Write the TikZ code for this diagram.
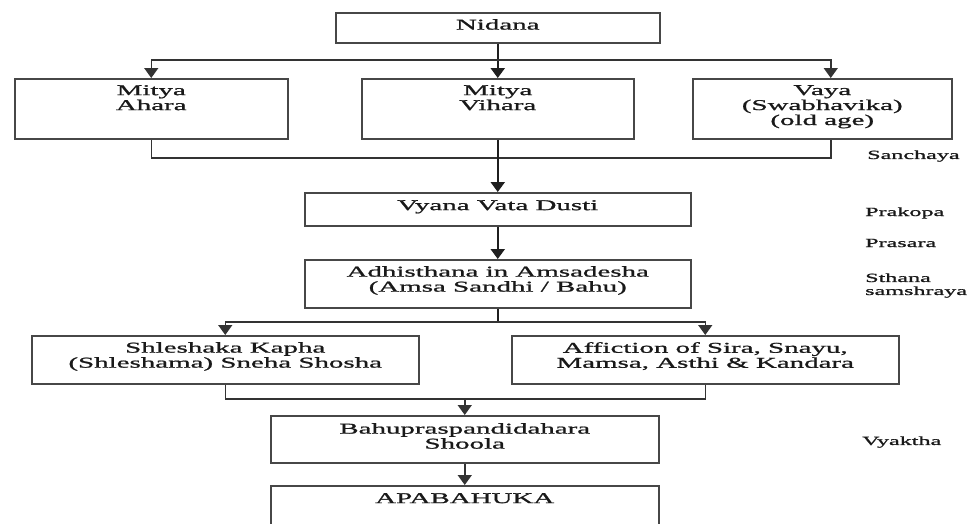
\documentclass[tikz,border=0pt]{standalone}
\usepackage{fontspec}
\setmainfont[FakeStretch=1.93,FakeBold=1.2]{Liberation Serif}
\usetikzlibrary{arrows.meta}
\begin{document}
\begin{tikzpicture}[x=1pt,y=-1pt,
  box/.style={draw=black!72, line width=1.5pt, inner sep=0pt, anchor=north west},
  txt/.style={font=\fontsize{15}{15}\selectfont, align=center, inner sep=0pt, anchor=north, text=black!90},
  side/.style={font=\fontsize{12.5}{13}\selectfont, align=left, inner sep=0pt, anchor=west, text=black!90},
  conn/.style={draw=black!80, line width=1.5pt},
  shaft/.style={draw=black!88, line width=2.2pt},
  arr/.style={-{Triangle[length=10pt,width=14pt]}}]
\useasboundingbox (0,0) rectangle (971,523);
\clip (0,0) rectangle (971,523);
% boxes
\node[box, minimum width=324pt, minimum height=30pt] (nid) at (335,12) {};
\node[box, minimum width=273pt, minimum height=60pt] (aha) at (14,78) {};
\node[box, minimum width=272pt, minimum height=60pt] (vih) at (361,78) {};
\node[box, minimum width=259pt, minimum height=60pt] (vay) at (692,78) {};
\node[box, minimum width=386pt, minimum height=33pt] (vya) at (304,192) {};
\node[box, minimum width=386pt, minimum height=48pt] (adh) at (304,259) {};
\node[box, minimum width=387pt, minimum height=48pt] (shl) at (31,335) {};
\node[box, minimum width=387pt, minimum height=48pt] (aff) at (511,335) {};
\node[box, minimum width=388pt, minimum height=47pt] (bah) at (270,415) {};
\node[box, minimum width=388pt, minimum height=70pt] (apa) at (270,485) {};
% texts
\node[txt] (nidt) at ([yshift=-7pt]nid.north) {Nidana};
\node[txt] (ahat) at ([yshift=-7pt]aha.north) {Mitya\\Ahara};
\node[txt] (viht) at ([yshift=-7pt]vih.north) {Mitya\\Vihara};
\node[txt] (vayt) at ([yshift=-7pt]vay.north) {Vaya\\(Swabhavika)\\(old age)};
\node[txt] (vyat) at ([yshift=-8pt]vya.north) {Vyana Vata Dusti};
\node[txt] (adht) at ([yshift=-7pt]adh.north) {Adhisthana in Amsadesha\\(Amsa Sandhi / Bahu)};
\node[txt] (shlt) at ([yshift=-7pt]shl.north) {Shleshaka Kapha\\(Shleshama) Sneha Shosha};
\node[txt] (afft) at ([yshift=-7pt]aff.north) {Affiction of Sira, Snayu,\\Mamsa, Asthi \& Kandara};
\node[txt] (baht) at ([yshift=-8pt]bah.north) {Bahupraspandidahara\\Shoola};
\node[txt] (apat) at ([yshift=-8pt]apa.north) {APABAHUKA};
% side labels
\node[side] (l1) at (867,156) {Sanchaya};
\node[side] (l2) at (865,213) {Prakopa};
\node[side] (l3) at (865,243) {Prasara};
\node[side] (l4) at (865,285.5) {Sthana\\samshraya};
\node[side] (l5) at (862,442) {Vyaktha};
% connectors
\coordinate (j1) at (nid.south |- 0,60);
\draw[shaft] (nid.south) -- (j1);
\draw[shaft,arr] (j1) -- (vih.north);
\draw[conn,arr] (j1) -| (aha.north);
\draw[conn,arr] (j1) -| ([xshift=8.5pt]vay.north);
\coordinate (c1) at (aha.south |- 0,158);
\coordinate (c2) at ([xshift=8.5pt]vay.south |- 0,158);
\draw[conn] (aha.south) -- (c1) -- (c2) -- ([xshift=8.5pt]vay.south);
\draw[shaft,arr] (vih.south) -- (vya.north);
\draw[shaft,arr] (vya.south) -- (adh.north);
\coordinate (j2) at (adh.south |- 0,322);
\draw[shaft] (adh.south) -- (j2);
\draw[conn,arr] (j2) -| (shl.north);
\draw[conn,arr] (j2) -| (aff.north);
\coordinate (c3) at (shl.south |- 0,399);
\coordinate (c4) at (aff.south |- 0,399);
\draw[conn] (shl.south) -- (c3) -- (c4) -- (aff.south);
\draw[conn,arr] (bah.north |- c3) -- (bah.north);
\draw[conn,arr] (bah.south) -- (apa.north);
\end{tikzpicture}
\end{document}
